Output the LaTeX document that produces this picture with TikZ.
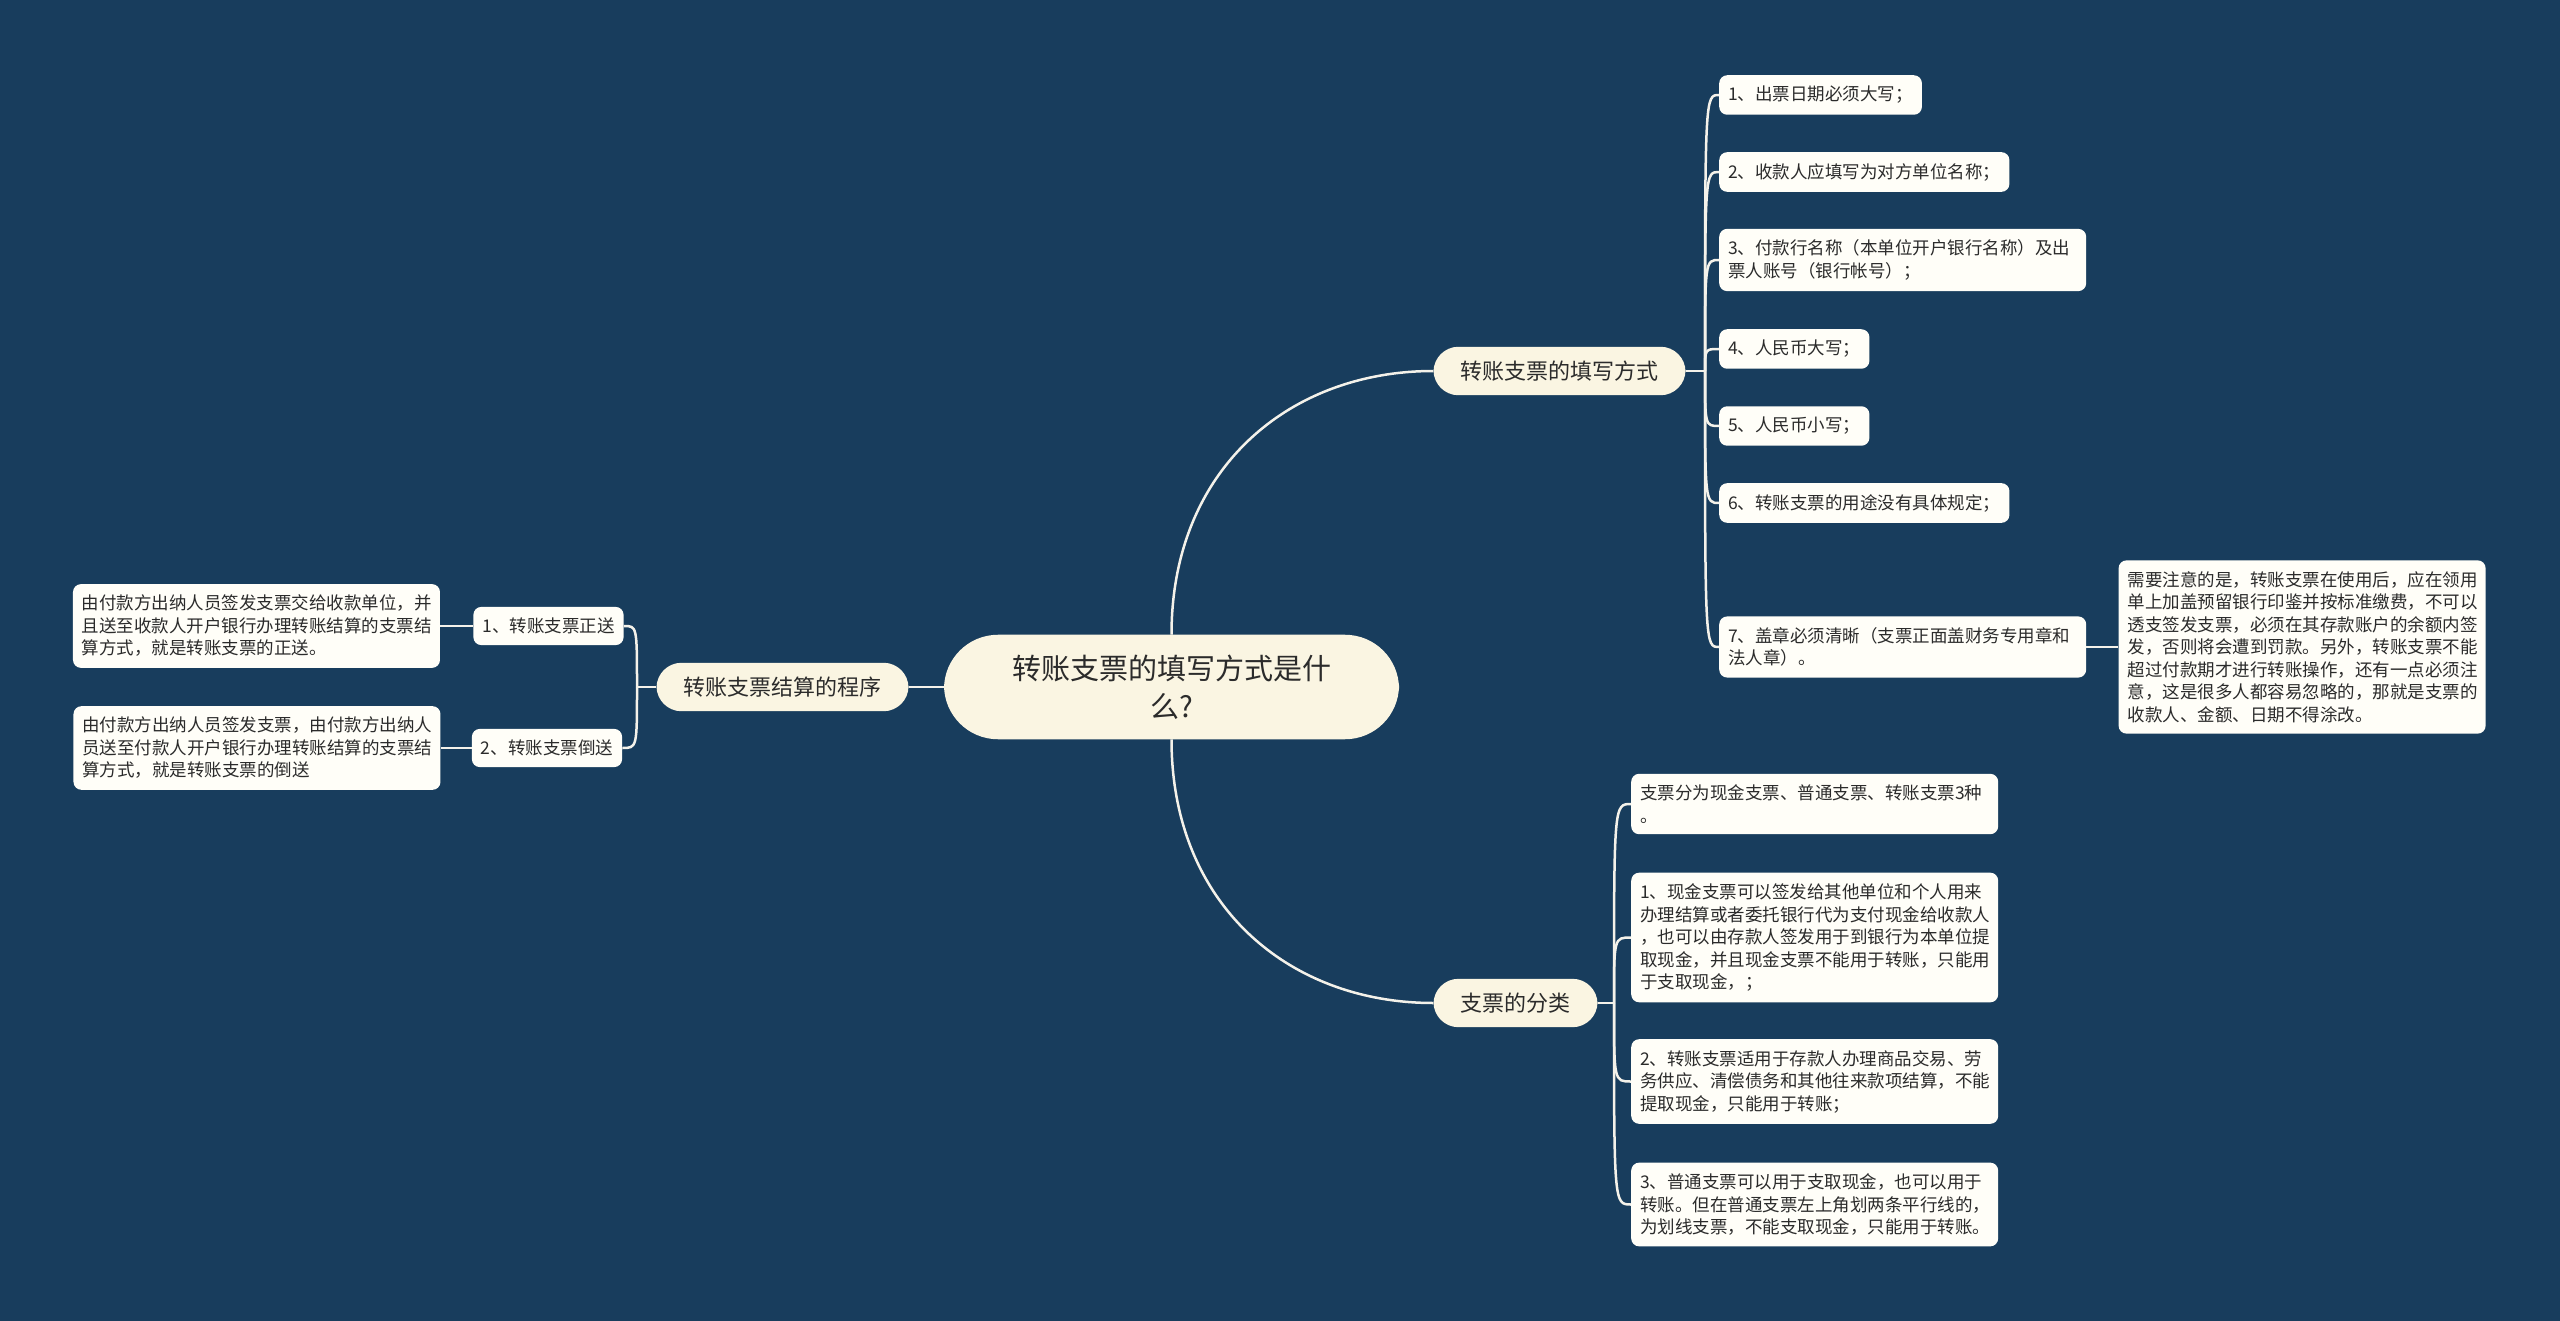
\documentclass[tikz,border=0pt]{standalone}
\usepackage{fontspec}
\setmainfont{Noto Sans CJK SC}
\usepackage{tikz}
\usetikzlibrary{positioning}
\definecolor{night}{HTML}{183D5D}
\definecolor{cream}{HTML}{FAF5E2}
\definecolor{paper}{HTML}{FFFEF8}
\definecolor{ink}{HTML}{2B2B2B}
\definecolor{wire}{HTML}{F4F2EA}
\tikzset{
  root/.style={fill=cream, rounded corners=54pt, text=ink, align=center,
               inner xsep=68pt, inner ysep=20pt, font=\fontsize{29}{38}\selectfont},
  topic/.style={fill=cream, rounded corners=25pt, text=ink,
                inner xsep=27pt, inner ysep=14pt, font=\fontsize{22}{26}\selectfont},
  leaf/.style={fill=paper, rounded corners=8pt, text=ink,
               inner xsep=9pt, inner ysep=11pt, font=\fontsize{17.5}{22.5}\selectfont},
  para/.style={leaf, text width=349pt, align=left},
  link/.style={draw=wire, line width=2.5pt},
}

\begin{document}
\begin{tikzpicture}[x=1pt,y=-1pt]
\fill[night] (0,0) rectangle (2560,1321);
\useasboundingbox (0,0) rectangle (2560,1321);

% --- centre ---
\node[root] (q) at (1171.5,687) {转账支票的填写方式是什\\么?};

% --- LEFT: settlement ---
\node[topic] (flow) at (782.5,687) {转账支票结算的程序};
\node[leaf] (fwd)  at (548.5,626) {1、转账支票正送};
\node[leaf] (back) at (547,748)   {2、转账支票倒送};
\node[para, left=33pt of fwd] (fwdtxt) {由付款方出纳人员签发支票交给收款单位，并\\
且送至收款人开户银行办理转账结算的支票结\\
算方式，就是转账支票的正送。};
\node[para, left=31pt of back] (backtxt) {由付款方出纳人员签发支票，由付款方出纳人\\
员送至付款人开户银行办理转账结算的支票结\\
算方式，就是转账支票的倒送};
\coordinate (lj) at (637,687);
\draw[link] (q.west) -- (flow.east);
\draw[link] (flow.west) -- (lj);
\draw[link] (lj) .. controls (lj |- fwd.east) .. (fwd.east);
\draw[link] (lj) .. controls (lj |- back.east) .. (back.east);
\draw[link] (fwd.west) -- (fwdtxt.east);
\draw[link] (back.west) -- (backtxt.east);

% --- RIGHT TOP: how to fill in ---
\node[topic] (fill) at (1559.5,371) {转账支票的填写方式};
\node[leaf, anchor=west] (w1) at (1719,95)  {1、出票日期必须大写；};
\node[leaf, anchor=west] (w2) at (1719,172) {2、收款人应填写为对方单位名称；};
\node[para, anchor=west] (w3) at (1719,260) {3、付款行名称（本单位开户银行名称）及出\\
票人账号（银行帐号）；};
\node[leaf, anchor=west] (w4) at (1719,349) {4、人民币大写；};
\node[leaf, anchor=west] (w5) at (1719,426) {5、人民币小写；};
\node[leaf, anchor=west] (w6) at (1719,503) {6、转账支票的用途没有具体规定；};
\node[para, anchor=west] (w7) at (1719,647) {7、盖章必须清晰（支票正面盖财务专用章和\\
法人章）。};
\node[para, right=32pt of w7] (note) {需要注意的是，转账支票在使用后，应在领用\\
单上加盖预留银行印鉴并按标准缴费，不可以\\
透支签发支票，必须在其存款账户的余额内签\\
发，否则将会遭到罚款。另外，转账支票不能\\
超过付款期才进行转账操作，还有一点必须注\\
意，这是很多人都容易忽略的，那就是支票的\\
收款人、金额、日期不得涂改。};
\coordinate (rj) at (1705,371);
\draw[link] (q.north) .. controls +(0,-165) and +(-145,0) .. (fill.west);
\draw[link] (fill.east) -- (rj);
\draw[link] (rj) .. controls (rj |- w1.west) .. (w1.west);
\draw[link] (rj) .. controls (rj |- w2.west) .. (w2.west);
\draw[link] (rj) .. controls (rj |- w3.west) .. (w3.west);
\draw[link] (rj) .. controls (rj |- w4.west) .. (w4.west);
\draw[link] (rj) .. controls (rj |- w5.west) .. (w5.west);
\draw[link] (rj) .. controls (rj |- w6.west) .. (w6.west);
\draw[link] (rj) .. controls (rj |- w7.west) .. (w7.west);
\draw[link] (w7.east) -- (note.west);

% --- RIGHT BOTTOM: kinds of cheque ---
\node[topic] (kind) at (1515.5,1003) {支票的分类};
\node[para, anchor=west] (k0) at (1631,804) {支票分为现金支票、普通支票、转账支票3种\\
。};
\node[para, anchor=west] (k1) at (1631,937.5) {1、现金支票可以签发给其他单位和个人用来\\
办理结算或者委托银行代为支付现金给收款人\\
，也可以由存款人签发用于到银行为本单位提\\
取现金，并且现金支票不能用于转账，只能用\\
于支取现金，；};
\node[para, anchor=west] (k2) at (1631,1081.5) {2、转账支票适用于存款人办理商品交易、劳\\
务供应、清偿债务和其他往来款项结算，不能\\
提取现金，只能用于转账；};
\node[para, anchor=west] (k3) at (1631,1204.5) {3、普通支票可以用于支取现金，也可以用于\\
转账。但在普通支票左上角划两条平行线的，\\
为划线支票，不能支取现金，只能用于转账。};
\coordinate (bj) at (1614,1003);
\draw[link] (q.south) .. controls +(0,165) and +(-145,0) .. (kind.west);
\draw[link] (kind.east) -- (bj);
\draw[link] (bj) .. controls (bj |- k0.west) .. (k0.west);
\draw[link] (bj) .. controls (bj |- k1.west) .. (k1.west);
\draw[link] (bj) .. controls (bj |- k2.west) .. (k2.west);
\draw[link] (bj) .. controls (bj |- k3.west) .. (k3.west);

\end{tikzpicture}
\end{document}
